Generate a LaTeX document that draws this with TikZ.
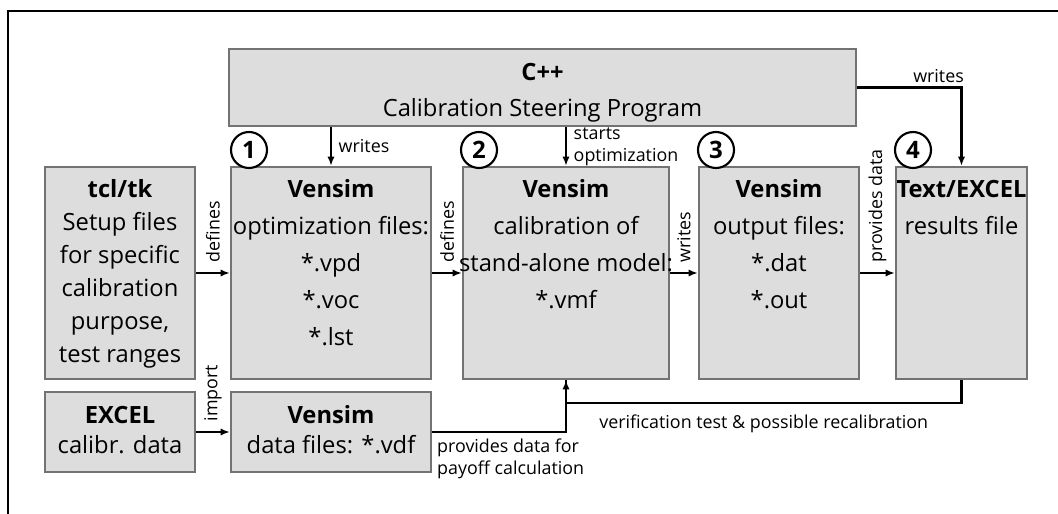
\documentclass[tikz,border=0pt]{standalone}
\usepackage{fontspec}
\setmainfont{Open Sans}
\usepackage{tikz}
\usetikzlibrary{positioning,arrows.meta}
\definecolor{boxfill}{RGB}{221,221,221}
\definecolor{boxedge}{RGB}{115,115,115}

\begin{document}
\begin{tikzpicture}[x=0.75pt, y=-0.75pt,
  stagebox/.style={draw=boxedge, line width=1.7pt, fill=boxfill, inner sep=0pt},
  stagetext/.style={anchor=north, align=center, inner sep=0pt, font=\fontsize{17.8}{27.75}\selectfont},
  tag/.style={inner sep=0pt, font=\fontsize{13.4}{16.5}\selectfont},
  sidetag/.style={tag, rotate=90, anchor=west, outer sep=8pt},
  flow/.style={line width=1.6pt, -{Latex[length=7pt,width=5.5pt]}},
  stepnum/.style={circle, draw, line width=1.6pt, fill=white, minimum size=27pt, inner sep=0pt, font=\fontsize{18}{18}\selectfont\bfseries}]
\useasboundingbox (0,0) rectangle (1058,514);

% Frame
\draw[line width=0.8pt] (8,514) -- (8,11) -- (1058,11);

% Steering program on top
\node[stagebox, minimum width=470.25pt, minimum height=57.75pt] (cpp) at (542.5,87.5) {};
\node[stagetext, font=\fontsize{17.8}{27}\selectfont] at (542.5,63) {\textbf{C++}\\Calibration Steering Program};

% Setup
\node[stagebox, minimum width=112.5pt, minimum height=159pt] (tcl) at (120,273) {};
\node[stagetext, font=\fontsize{17.8}{24.75}\selectfont] at (120,179.5) {\textbf{tcl/tk}\\Setup files\\for specific\\calibration\\purpose,\\test ranges};

% Vensim stages
\node[stagebox, minimum width=150pt, minimum height=159pt] (vopt) at (331,273) {};
\node[stagetext] at (331,179.5) {\textbf{Vensim}\\optimization files:\\*.vpd\\*.voc\\*.lst};

\node[stagebox, minimum width=154.5pt, minimum height=159pt] (vcal) at (566,273) {};
\node[stagetext] at (566,179.5) {\textbf{Vensim}\\calibration of\\stand-alone model:\\*.vmf};

\node[stagebox, minimum width=120pt, minimum height=159pt] (vout) at (779,273) {};
\node[stagetext] at (779,179.5) {\textbf{Vensim}\\output files:\\*.dat\\*.out};

% Results
\node[stagebox, minimum width=98.25pt, minimum height=159pt] (res) at (961.5,273) {};
\node[stagetext] at (961.5,180) {\textbf{Text/EXCEL}\\results file};

% Data row
\node[stagebox, minimum width=112.5pt, minimum height=60pt] (xls) at (120,432) {};
\node[stagetext, font=\fontsize{17.8}{22.5}\selectfont] at (120,406) {\textbf{EXCEL}\\calibr. data};

\node[stagebox, minimum width=150pt, minimum height=60pt] (vdat) at (331,432) {};
\node[stagetext, font=\fontsize{17.8}{22.5}\selectfont] at (331,405.5) {\textbf{Vensim}\\data files: *.vdf};

% Step numbers
\node[stepnum] (n1) at (249,150) {1};
\node[stepnum] (n2) at (479,150) {2};
\node[stepnum] (n3) at (716,150) {3};
\node[stepnum] (n4) at (913,150) {4};

% Arrows from the steering program
\draw[flow] (cpp.south -| vopt.north) -- node[tag, right=5pt] {writes} (vopt.north);
\draw[flow] (cpp.south -| vcal.north) -- node[tag, right=5pt, align=left] {starts\\optimization} (vcal.north);
\draw[flow] (cpp.east) -| node[tag, above=3pt, pos=0.39] {writes} (res.north);

% Main chain
\draw[flow] (tcl.east) -- node[sidetag] {defines} (vopt.west);
\draw[flow] (vopt.east) -- node[sidetag] {defines} (vcal.west);
\draw[flow] (vcal.east) -- node[sidetag] {writes} (vout.west);
\draw[flow] (vout.east) -- node[sidetag] {provides data} (res.west);
\draw[flow] (xls.east) -- node[sidetag] {import} (vdat.west);

% Feedback into calibration
\draw[flow] (vdat.east) -| node[tag, pos=0, align=left, below right=4pt and 3pt] {provides data for\\payoff calculation} (vcal.south);
\draw[line width=1.6pt] (res.south) -- ++(0,23) -| node[tag, pos=0.25, below=8pt] {verification test \& possible recalibration} (vcal.south);
\end{tikzpicture}
\end{document}
